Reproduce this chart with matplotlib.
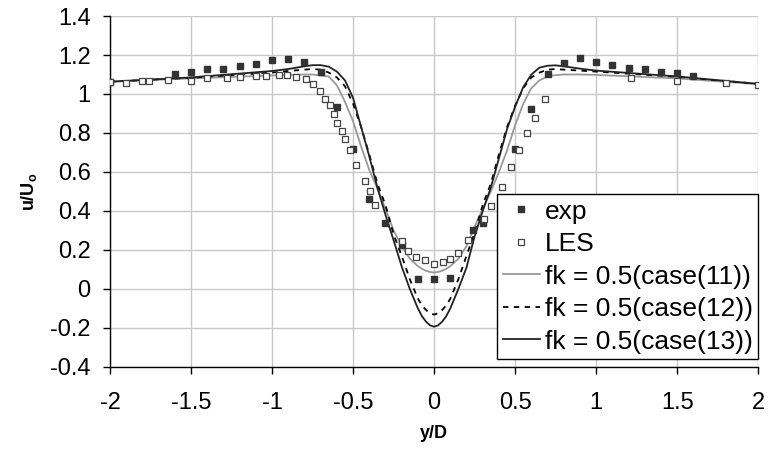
import matplotlib
matplotlib.use("Agg")
import matplotlib.pyplot as plt

plt.rcParams['font.family'] = ['Liberation Sans', 'DejaVu Sans']
plt.rcParams['mathtext.fontset'] = 'custom'
plt.rcParams['mathtext.rm'] = 'Liberation Sans'
plt.rcParams['mathtext.bf'] = 'Liberation Sans:bold'
plt.rcParams['axes.unicode_minus'] = False

# experiment (filled squares)
exp_x = [-2.0, -1.6, -1.5, -1.4, -1.3, -1.2, -1.1, -1.0, -0.9, -0.8, -0.7, -0.6,
         -0.5, -0.4, -0.3, -0.2, -0.1, 0.0, 0.1, 0.24, 0.3, 0.5, 0.6, 0.7, 0.8,
         0.9, 1.0, 1.1, 1.2, 1.3, 1.4, 1.5, 1.6]
exp_y = [1.063, 1.103, 1.114, 1.127, 1.13, 1.144, 1.155, 1.173, 1.178, 1.164,
         1.114, 0.934, 0.716, 0.461, 0.338, 0.226, 0.053, 0.053, 0.056, 0.303,
         0.34, 0.716, 0.925, 1.104, 1.161, 1.185, 1.165, 1.147, 1.133, 1.128,
         1.113, 1.109, 1.092]

# LES (open squares)
les_x = [-2.0, -1.9, -1.8, -1.76, -1.64, -1.5, -1.4, -1.28, -1.2, -1.1, -1.04,
         -0.96, -0.91, -0.85, -0.79, -0.745, -0.706, -0.673, -0.642, -0.619,
         -0.597, -0.566, -0.549, -0.516, -0.481, -0.426, -0.395, -0.362, -0.2,
         -0.162, -0.111, -0.056, 0.0, 0.054, 0.099, 0.146, 0.208, 0.309, 0.35,
         0.42, 0.476, 0.523, 0.576, 0.623, 0.685, 1.217, 1.498, 1.801, 2.0]
les_y = [1.063, 1.058, 1.067, 1.067, 1.07, 1.068, 1.08, 1.08, 1.089, 1.092, 1.092,
         1.097, 1.096, 1.089, 1.079, 1.053, 1.015, 0.976, 0.942, 0.897, 0.853,
         0.812, 0.768, 0.711, 0.637, 0.554, 0.504, 0.431, 0.246, 0.193, 0.163,
         0.147, 0.13, 0.138, 0.154, 0.186, 0.253, 0.358, 0.426, 0.525, 0.624,
         0.713, 0.802, 0.877, 0.974, 1.083, 1.068, 1.057, 1.047]

# simulations
sim_x = [-2.0, -1.5, -1.0, -0.9, -0.8, -0.75, -0.7, -0.65, -0.6, -0.55, -0.5,
         -0.45, -0.4, -0.35, -0.3, -0.25, -0.2, -0.15, -0.1, -0.075, -0.05,
         -0.025, 0.0, 0.025, 0.05, 0.075, 0.1, 0.15, 0.2, 0.25, 0.3, 0.35, 0.4,
         0.45, 0.5, 0.55, 0.6, 0.65, 0.7, 0.75, 0.8, 0.9, 1.0, 1.5, 2.0]
case11 = [1.063, 1.08, 1.095, 1.098, 1.1, 1.1, 1.095, 1.09, 1.045, 0.96, 0.86,
          0.73, 0.61, 0.515, 0.41, 0.30, 0.22, 0.155, 0.117, 0.103, 0.093,
          0.087, 0.084, 0.087, 0.093, 0.103, 0.117, 0.155, 0.22, 0.32, 0.41,
          0.50, 0.60, 0.71, 0.84, 0.95, 1.03, 1.07, 1.09, 1.097, 1.1, 1.1, 1.098,
          1.08, 1.05]
case12 = [1.063, 1.083, 1.11, 1.118, 1.125, 1.128, 1.125, 1.11, 1.085, 1.04, 0.95,
          0.83, 0.69, 0.54, 0.43, 0.28, 0.17, 0.05, -0.05, -0.085, -0.108,
          -0.125, -0.132, -0.125, -0.108, -0.085, -0.05, 0.05, 0.17, 0.29, 0.43,
          0.54, 0.69, 0.83, 0.94, 1.03, 1.085, 1.11, 1.125, 1.128, 1.125, 1.12,
          1.115, 1.088, 1.052]
case13 = [1.063, 1.085, 1.118, 1.128, 1.142, 1.148, 1.148, 1.14, 1.115, 1.07, 0.98,
          0.83, 0.68, 0.52, 0.38, 0.25, 0.115, 0.0, -0.10, -0.14, -0.168,
          -0.187, -0.194, -0.187, -0.168, -0.14, -0.10, 0.0, 0.11, 0.27, 0.40,
          0.52, 0.67, 0.82, 0.935, 1.035, 1.10, 1.135, 1.145, 1.147, 1.142, 1.13,
          1.12, 1.09, 1.052]

xticks = [-2, -1.5, -1, -0.5, 0, 0.5, 1, 1.5, 2]
yticks = [-0.4, -0.2, 0, 0.2, 0.4, 0.6, 0.8, 1, 1.2, 1.4]

fig = plt.figure(figsize=(7.69, 4.58), dpi=100)
ax = fig.add_axes([0.143, 0.199, 0.843, 0.766])

ax.plot(exp_x, exp_y, 's', color='#333333', ms=5, mec='#333333', label='exp', zorder=4)
ax.plot(les_x, les_y, 's', color='#444444', mfc='white', ms=5, mew=0.9, label='LES', zorder=4)
ax.plot(sim_x, case11, '-', color='#999999', lw=1.3, label='fk = 0.5(case(11))', zorder=3)
ax.plot(sim_x, case12, color='black', lw=1.3, dashes=(3, 3), label='fk = 0.5(case(12))', zorder=3)
ax.plot(sim_x, case13, '-', color='#222222', lw=1.3, label='fk = 0.5(case(13))', zorder=3)

ax.set_xlim(-2, 2)
ax.set_ylim(-0.4, 1.4)
ax.set_xticks(xticks)
ax.set_xticklabels(['{:g}'.format(v) for v in xticks])
ax.set_yticks(yticks)
ax.set_yticklabels(['{:g}'.format(v) for v in yticks])
ax.tick_params(direction='out', length=5, width=1, labelsize=17, color='black')
ax.tick_params(axis='x', pad=13)
ax.tick_params(axis='y', pad=9)

ax.grid(True, color='#c8c8c8', lw=1)
ax.set_axisbelow(True)
for s in ['top', 'right']:
    ax.spines[s].set_visible(False)
for s in ['left', 'bottom']:
    ax.spines[s].set_color('black')
    ax.spines[s].set_linewidth(1)

ax.set_xlabel('y/D', fontsize=13, fontweight='bold', labelpad=8)
ax.set_ylabel(r'u/U$_\mathbf{o}$', fontsize=13, fontweight='bold', labelpad=8)

leg = ax.legend(loc='lower right', bbox_to_anchor=(1.0, 0.023), borderaxespad=0,
                fontsize=19, numpoints=1, handlelength=1.4, handletextpad=0.2,
                labelspacing=0.32, borderpad=0.2, fancybox=False, framealpha=1)
leg.get_frame().set_edgecolor('black')
leg.get_frame().set_linewidth(1)

plt.savefig('out.png', dpi=100)
